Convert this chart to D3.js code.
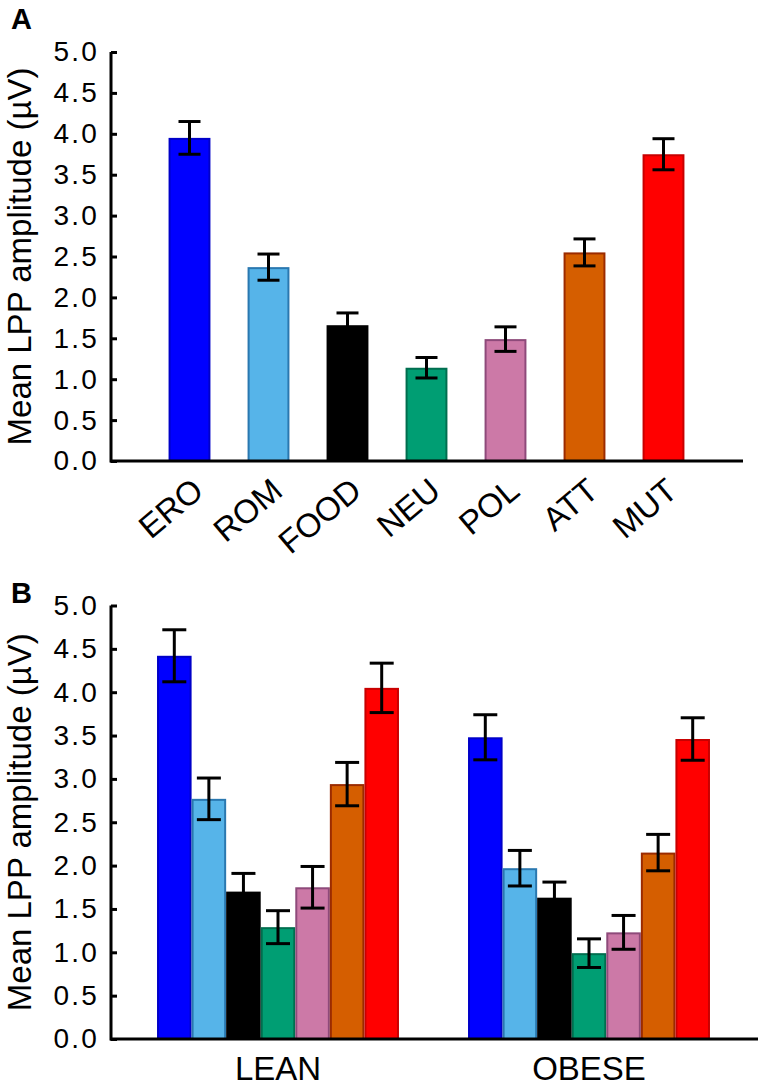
<!DOCTYPE html>
<html>
<head>
<meta charset="utf-8">
<script src="https://cdn.jsdelivr.net/npm/d3@7"></script>
<style>
  html, body { margin: 0; padding: 0; background: #fff; }
  svg text { font-family: "Liberation Sans", Arial, sans-serif; fill: #000; }
</style>
</head>
<body>
<svg id="chart" width="764" height="1087"></svg>
<script>
// ---------- data ----------
const categories = ["ERO", "ROM", "FOOD", "NEU", "POL", "ATT", "MUT"];
const fillColors = ["#0000ff", "#56b4e9", "#000000", "#009e73", "#cc79a7", "#d55e00", "#ff0000"];
const strokeColors = ["#0000c8", "#2a78b0", "#000000", "#006e4f", "#8e4a7a", "#9b2b00", "#c80000"];

const meanA = [3.95, 2.37, 1.66, 1.14, 1.49, 2.55, 3.75];
const errA  = [0.20, 0.16, 0.15, 0.125, 0.15, 0.165, 0.19];

const groups = ["LEAN", "OBESE"];
const meanLean  = [4.42, 2.77, 1.70, 1.29, 1.75, 2.94, 4.05];
const errLean   = [0.30, 0.24, 0.21, 0.19, 0.24, 0.25, 0.285];
const meanObese = [3.48, 1.97, 1.63, 0.99, 1.23, 2.15, 3.46];
const errObese  = [0.26, 0.205, 0.18, 0.165, 0.195, 0.21, 0.245];

const yTicks = [0, 0.5, 1, 1.5, 2, 2.5, 3, 3.5, 4, 4.5, 5];
const yLabel = "Mean LPP amplitude (\u00B5V)";

// ---------- drawing ----------
const svg = d3.select("#chart");
const fmt = d3.format(".1f");

function yAxis(g, y) {
  const ax = d3.axisLeft(y).tickValues(yTicks).tickFormat(fmt).tickSize(-6).tickPadding(12);
  g.call(ax);
  g.select(".domain").remove();
  g.selectAll(".tick line").attr("stroke", "#000").attr("stroke-width", 3);
  g.selectAll(".tick text").attr("font-size", 28).attr("fill", "#000")
    .attr("letter-spacing", 2.2)
    .attr("font-family", "Liberation Sans, Arial, sans-serif");
}

function drawPanel(opts) {
  const { y, ax0, letter, letterY } = opts;
  const [yb, yt] = y.range();
  const g = svg.append("g").attr("transform", `translate(${ax0},0)`);
  yAxis(g, y);
  svg.append("line").attr("x1", ax0).attr("x2", ax0).attr("y1", yt).attr("y2", yb + 1.5)
    .attr("stroke", "#000").attr("stroke-width", 3);
  svg.append("text")
    .attr("transform", `translate(31,${(yb + yt) / 2}) rotate(-90)`)
    .attr("text-anchor", "middle").attr("font-size", 33).text(yLabel);
  svg.append("text").attr("x", 11).attr("y", letterY).attr("font-size", 29)
    .attr("font-weight", "bold").text(letter);
}

// ---------- Panel A ----------
const yA = d3.scaleLinear().domain([0, 5]).range([461, 52]);
const xA = d3.scaleBand().domain(categories).range([150, 703]).paddingInner(0.47).paddingOuter(0.235);

const barsA = svg.append("g");
categories.forEach((c, i) => {
  barsA.append("rect")
    .attr("x", xA(c) + 1).attr("width", xA.bandwidth() - 2)
    .attr("y", yA(meanA[i]) + 1).attr("height", yA(0) - yA(meanA[i]) - 1)
    .attr("fill", fillColors[i]).attr("stroke", strokeColors[i]).attr("stroke-width", 2);
});
const ebA = svg.append("g").attr("stroke", "#000").attr("stroke-width", 3);
categories.forEach((c, i) => {
  const cx = xA(c) + xA.bandwidth() / 2;
  const hi = yA(meanA[i] + errA[i]), lo = yA(meanA[i] - errA[i]);
  ebA.append("line").attr("x1", cx).attr("x2", cx).attr("y1", hi).attr("y2", lo);
  ebA.append("line").attr("x1", cx - 11).attr("x2", cx + 11).attr("y1", hi).attr("y2", hi);
  ebA.append("line").attr("x1", cx - 11).attr("x2", cx + 11).attr("y1", lo).attr("y2", lo);
});
drawPanel({ y: yA, ax0: 111, letter: "A", letterY: 29 });
svg.append("line").attr("x1", 110).attr("x2", 743).attr("y1", yA(0)).attr("y2", yA(0))
  .attr("stroke", "#000").attr("stroke-width", 3);
const gxA = svg.append("g").attr("transform", `translate(0,${yA(0)})`)
  .call(d3.axisBottom(xA).tickSize(0));
gxA.select(".domain").remove();
gxA.selectAll(".tick text")
  .attr("font-size", 33).attr("fill", "#000")
  .attr("font-family", "Liberation Sans, Arial, sans-serif")
  .attr("text-anchor", "end").attr("dy", null).attr("y", null)
  .attr("transform", "translate(16,33) rotate(-40)");

// ---------- Panel B ----------
const yB = d3.scaleLinear().domain([0, 5]).range([1039, 605.5]);
const xB0 = d3.scaleBand().domain(groups).range([122.5, 744.5]).paddingInner(0.222).paddingOuter(0.111);
const xB1 = d3.scaleBand().domain(categories).range([0, xB0.bandwidth()]);
const seriesB = { LEAN: [meanLean, errLean], OBESE: [meanObese, errObese] };

const barsB = svg.append("g");
const ebB = svg.append("g").attr("stroke", "#000").attr("stroke-width", 3);
groups.forEach(gname => {
  const [m] = seriesB[gname];
  categories.forEach((c, i) => {
    const bx = xB0(gname) + xB1(c);
    barsB.append("rect")
      .attr("x", bx + 1).attr("width", xB1.bandwidth() - 2)
      .attr("y", yB(m[i]) + 1).attr("height", yB(0) - yB(m[i]) - 1)
      .attr("fill", fillColors[i]).attr("stroke", strokeColors[i]).attr("stroke-width", 2);
  });
});
groups.forEach(gname => {
  const [m, e] = seriesB[gname];
  categories.forEach((c, i) => {
    const cx = xB0(gname) + xB1(c) + xB1.bandwidth() / 2;
    const hi = yB(m[i] + e[i]), lo = yB(m[i] - e[i]);
    ebB.append("line").attr("x1", cx).attr("x2", cx).attr("y1", hi).attr("y2", lo);
    ebB.append("line").attr("x1", cx - 12).attr("x2", cx + 12).attr("y1", hi).attr("y2", hi);
    ebB.append("line").attr("x1", cx - 12).attr("x2", cx + 12).attr("y1", lo).attr("y2", lo);
  });
});
drawPanel({ y: yB, ax0: 111, letter: "B", letterY: 603 });
svg.append("line").attr("x1", 110).attr("x2", 758).attr("y1", yB(0)).attr("y2", yB(0))
  .attr("stroke", "#000").attr("stroke-width", 3);
const gxB = svg.append("g").attr("transform", `translate(0,${yB(0)})`)
  .call(d3.axisBottom(xB0).tickSize(0).tickPadding(18));
gxB.select(".domain").remove();
gxB.selectAll(".tick text").attr("font-size", 33).attr("fill", "#000")
  .attr("font-family", "Liberation Sans, Arial, sans-serif");
</script>
</body>
</html>
